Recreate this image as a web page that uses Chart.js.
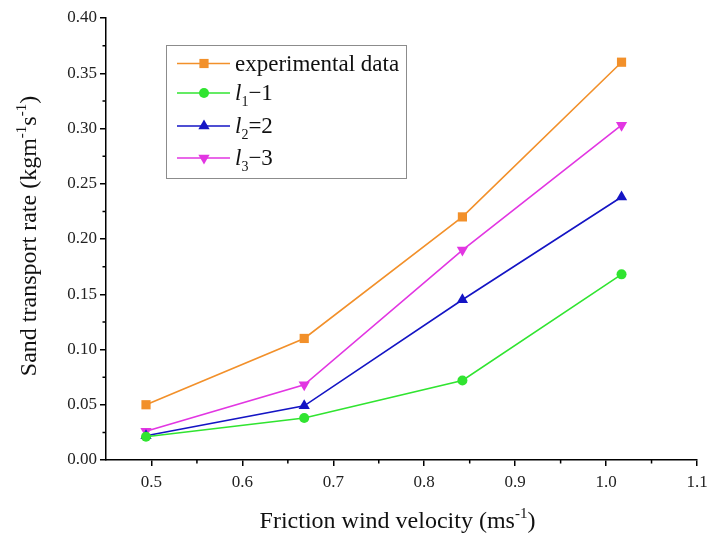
<!DOCTYPE html>
<html>
<head>
<meta charset="utf-8">
<script src="https://cdn.jsdelivr.net/npm/chart.js@4/dist/chart.umd.min.js"></script>
<style>
  html, body { margin: 0; padding: 0; background: #ffffff; }
  #wrap { width: 709px; height: 539px; }
</style>
</head>
<body>
<div id="wrap"><canvas id="c" width="709" height="539"></canvas></div>
<script>
// Friction wind velocity (m/s) and sand transport rate (kg m^-1 s^-1)
const velocity     = [0.494, 0.668, 0.842, 1.017];
const experimental = [0.050, 0.110, 0.220, 0.360];
const model1       = [0.021, 0.038, 0.072, 0.168];
const model2       = [0.022, 0.049, 0.145, 0.238];
const model3       = [0.026, 0.068, 0.190, 0.303];

const xTicks = [0.5, 0.6, 0.7, 0.8, 0.9, 1.0, 1.1];
const yTicks = [0.00, 0.05, 0.10, 0.15, 0.20, 0.25, 0.30, 0.35, 0.40];
const xMinor = [0.55, 0.65, 0.75, 0.85, 0.95, 1.05];
const yMinor = [0.025, 0.075, 0.125, 0.175, 0.225, 0.275, 0.325, 0.375];

const SERIF = "'Liberation Serif', 'Times New Roman', serif";

// Legend labels: italic symbol, subscript index, remainder
const legendLabels = [
  { plain: 'experimental data' },
  { sym: 'l', sub: '1', rest: '\u22121' },
  { sym: 'l', sub: '2', rest: '=2' },
  { sym: 'l', sub: '3', rest: '\u22123' }
];

const pts = (ys) => ys.map((y, i) => ({ x: velocity[i], y }));

const datasets = [
  { label: 'experimental data', data: pts(experimental), borderColor: '#F2902A', backgroundColor: '#F2902A',
    pointStyle: 'rect', pointRadius: 6.5, pointRotation: 0 },
  { label: 'l1=1', data: pts(model1), borderColor: '#30E430', backgroundColor: '#30E430',
    pointStyle: 'circle', pointRadius: 5, pointRotation: 0 },
  { label: 'l2=2', data: pts(model2), borderColor: '#1414C4', backgroundColor: '#1414C4',
    pointStyle: 'triangle', pointRadius: 6.5, pointRotation: 0 },
  { label: 'l3=3', data: pts(model3), borderColor: '#E236E2', backgroundColor: '#E236E2',
    pointStyle: 'triangle', pointRadius: 6.5, pointRotation: 180 }
].map(d => Object.assign(d, { borderWidth: 1.6, pointBorderWidth: 0, tension: 0, fill: false }));

// Draws a run of text pieces (with sub/superscripts) starting at x
function richWidth(ctx, parts) {
  let w = 0;
  for (const p of parts) { ctx.font = p.font; w += ctx.measureText(p.t).width; }
  return w;
}
function drawRich(ctx, parts, x, y) {
  let cx = x;
  for (const p of parts) {
    ctx.font = p.font;
    ctx.fillText(p.t, cx, y + (p.dy || 0));
    cx += ctx.measureText(p.t).width;
  }
}

const decorations = {
  id: 'decorations',
  afterDraw(chart) {
    const ctx = chart.ctx;
    const xs = chart.scales.x, ys = chart.scales.y;
    const area = chart.chartArea;
    ctx.save();

    // minor tick marks
    ctx.strokeStyle = '#000';
    ctx.lineWidth = 1.5;
    ctx.beginPath();
    for (const v of xMinor) {
      const px = xs.getPixelForValue(v);
      ctx.moveTo(px, area.bottom);
      ctx.lineTo(px, area.bottom + 3.5);
    }
    for (const v of yMinor) {
      const py = ys.getPixelForValue(v);
      ctx.moveTo(area.left, py);
      ctx.lineTo(area.left - 3.5, py);
    }
    ctx.stroke();

    // axis titles
    ctx.fillStyle = '#111';
    ctx.textBaseline = 'alphabetic';
    const big = '24px ' + SERIF, sup = '15px ' + SERIF;
    const xTitle = [
      { t: 'Friction wind velocity (ms', font: big },
      { t: '-1', font: sup, dy: -10 },
      { t: ')', font: big }
    ];
    const xw = richWidth(ctx, xTitle);
    drawRich(ctx, xTitle, (area.left + area.right) / 2 - 4 - xw / 2, 528);

    const yTitle = [
      { t: 'Sand transport rate (kgm', font: big },
      { t: '-1', font: sup, dy: -10 },
      { t: 's', font: big },
      { t: '-1', font: sup, dy: -10 },
      { t: ')', font: big }
    ];
    const yw = richWidth(ctx, yTitle);
    ctx.save();
    ctx.translate(36, (area.top + area.bottom) / 2 - 3);
    ctx.rotate(-Math.PI / 2);
    drawRich(ctx, yTitle, -yw / 2, 0);
    ctx.restore();

    // legend box
    const lx = 166, ly = 45, lw = 240, lh = 133;
    ctx.strokeStyle = '#8c8c8c';
    ctx.lineWidth = 1;
    ctx.strokeRect(lx + 0.5, ly + 0.5, lw, lh);

    const legFont = '23px ' + SERIF;
    const rowY = [63.5, 93, 126, 158];
    chart.data.datasets.forEach((ds, i) => {
      const y = rowY[i];
      ctx.strokeStyle = ds.borderColor;
      ctx.lineWidth = ds.borderWidth;
      ctx.beginPath();
      ctx.moveTo(177, y);
      ctx.lineTo(230, y);
      ctx.stroke();
      ctx.fillStyle = ds.backgroundColor;
      Chart.helpers.drawPoint(ctx, {
        pointStyle: ds.pointStyle, radius: ds.pointRadius, rotation: ds.pointRotation, borderWidth: 0
      }, 204, y);

      ctx.fillStyle = '#111';
      const lab = legendLabels[i];
      const base = y + 7;
      if (lab.plain) {
        ctx.font = legFont;
        ctx.fillText(lab.plain, 235, base);
      } else {
        drawRich(ctx, [
          { t: lab.sym, font: 'italic 23px ' + SERIF },
          { t: lab.sub, font: '14px ' + SERIF, dy: 6 },
          { t: lab.rest, font: legFont }
        ], 235, base);
      }
    });
    ctx.restore();
  }
};

new Chart(document.getElementById('c'), {
  type: 'line',
  data: { datasets },
  plugins: [decorations],
  options: {
    responsive: false,
    devicePixelRatio: 1,
    animation: false,
    layout: { padding: { left: 0, right: 12, top: 18, bottom: 0 } },
    plugins: { legend: { display: false }, tooltip: { enabled: false } },
    scales: {
      x: {
        type: 'linear', min: 0.45, max: 1.1,
        afterBuildTicks: (s) => { s.ticks = xTicks.map(v => ({ value: v })); },
        afterFit: (s) => { s.height = 79; s.paddingLeft = 0; s.paddingRight = 0; },
        ticks: { callback: (v) => Number(v).toFixed(1), color: '#222', padding: 6,
                 font: { family: SERIF, size: 17 }, maxRotation: 0, autoSkip: false },
        grid: { display: true, drawOnChartArea: false, drawTicks: true, tickLength: 6, color: '#000', lineWidth: 1.5 },
        border: { display: true, color: '#000', width: 1.5 }
      },
      y: {
        type: 'linear', min: 0, max: 0.4,
        afterBuildTicks: (s) => { s.ticks = yTicks.map(v => ({ value: v })); },
        afterFit: (s) => { s.width = 106; s.paddingTop = 0; s.paddingBottom = 0; },
        ticks: { callback: (v) => Number(v).toFixed(2), color: '#222', padding: 3,
                 font: { family: SERIF, size: 17 }, autoSkip: false },
        grid: { display: true, drawOnChartArea: false, drawTicks: true, tickLength: 6, color: '#000', lineWidth: 1.5 },
        border: { display: true, color: '#000', width: 1.5 }
      }
    }
  }
});
</script>
</body>
</html>
